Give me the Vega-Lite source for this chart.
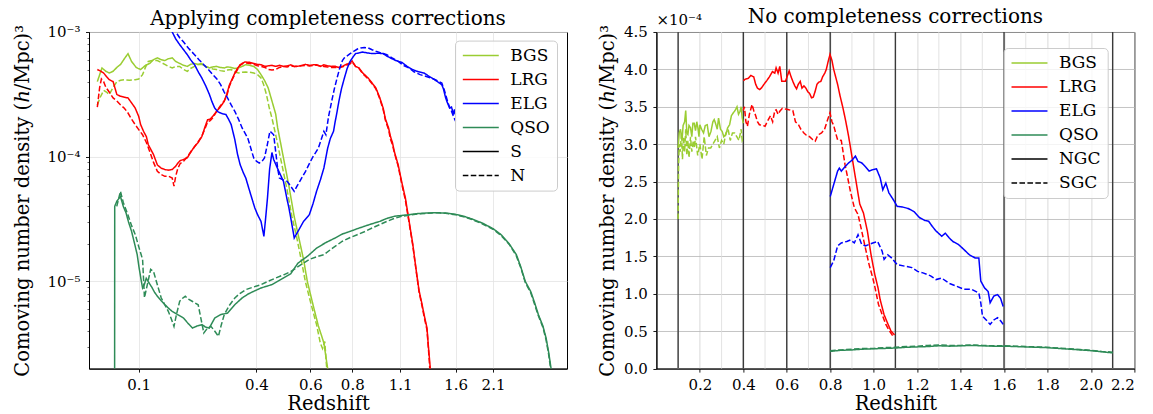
{
"$schema": "https://vega.github.io/schema/vega-lite/v6.json",
"background": "white",
"padding": {"left": 12, "top": 6, "right": 5, "bottom": 3},
"spacing": 89.4,
"bounds": "flush",
"resolve": {"scale": {"color": "independent", "strokeDash": "independent"}, "legend": {"color": "independent", "strokeDash": "independent"}},
"config": {
  "font": "DejaVu Serif",
  "view": {"stroke": "black", "strokeWidth": 1},
  "axis": {"domainColor": "black", "domainWidth": 1, "tickColor": "black", "tickWidth": 0.9, "tickSize": 3.5, "labelFont": "DejaVu Serif", "labelFontSize": 15, "labelColor": "black", "labelPadding": 5, "labelOverlap": false, "titleFont": "DejaVu Serif", "titleFontSize": 19.5, "titleFontWeight": "normal", "titleColor": "black", "gridColor": "#e3e3e3", "gridWidth": 0.8},
  "title": {"font": "DejaVu Serif", "fontSize": 20, "fontWeight": "normal", "color": "black", "frame": "group", "baseline": "alphabetic"},
  "legend": {"labelFont": "DejaVu Serif", "labelFontSize": 17, "labelColor": "black"}
},
"datasets": {
"left": [
{"tracer":"BGS","cap":"S","z":0.023,"n":4.0e-4},{"tracer":"BGS","cap":"S","z":0.031,"n":5.15e-4},{"tracer":"BGS","cap":"S","z":0.038,"n":4.84e-4},{"tracer":"BGS","cap":"S","z":0.044,"n":4.69e-4},{"tracer":"BGS","cap":"S","z":0.051,"n":4.84e-4},{"tracer":"BGS","cap":"S","z":0.058,"n":5.2e-4},{"tracer":"BGS","cap":"S","z":0.065,"n":5.5e-4},{"tracer":"BGS","cap":"S","z":0.072,"n":6.1e-4},{"tracer":"BGS","cap":"S","z":0.079,"n":6.7e-4},{"tracer":"BGS","cap":"S","z":0.086,"n":5.8e-4},{"tracer":"BGS","cap":"S","z":0.095,"n":5.2e-4},{"tracer":"BGS","cap":"S","z":0.104,"n":5.0e-4},{"tracer":"BGS","cap":"S","z":0.114,"n":5.4e-4},{"tracer":"BGS","cap":"S","z":0.123,"n":5.6e-4},{"tracer":"BGS","cap":"S","z":0.131,"n":6.0e-4},{"tracer":"BGS","cap":"S","z":0.139,"n":6.2e-4},{"tracer":"BGS","cap":"S","z":0.147,"n":6.0e-4},{"tracer":"BGS","cap":"S","z":0.155,"n":5.9e-4},{"tracer":"BGS","cap":"S","z":0.163,"n":6.1e-4},{"tracer":"BGS","cap":"S","z":0.172,"n":6.2e-4},{"tracer":"BGS","cap":"S","z":0.18,"n":5.8e-4},{"tracer":"BGS","cap":"S","z":0.189,"n":5.6e-4},{"tracer":"BGS","cap":"S","z":0.198,"n":5.4e-4},{"tracer":"BGS","cap":"S","z":0.207,"n":5.3e-4},{"tracer":"BGS","cap":"S","z":0.215,"n":5.5e-4},{"tracer":"BGS","cap":"S","z":0.225,"n":5.6e-4},{"tracer":"BGS","cap":"S","z":0.234,"n":5.5e-4},{"tracer":"BGS","cap":"S","z":0.243,"n":5.5e-4},{"tracer":"BGS","cap":"S","z":0.253,"n":5.3e-4},{"tracer":"BGS","cap":"S","z":0.263,"n":5.15e-4},{"tracer":"BGS","cap":"S","z":0.272,"n":5.25e-4},{"tracer":"BGS","cap":"S","z":0.282,"n":5.3e-4},{"tracer":"BGS","cap":"S","z":0.292,"n":5.2e-4},{"tracer":"BGS","cap":"S","z":0.303,"n":5.15e-4},{"tracer":"BGS","cap":"S","z":0.313,"n":5.25e-4},{"tracer":"BGS","cap":"S","z":0.324,"n":5.2e-4},{"tracer":"BGS","cap":"S","z":0.335,"n":5.1e-4},{"tracer":"BGS","cap":"S","z":0.346,"n":5.15e-4},{"tracer":"BGS","cap":"S","z":0.357,"n":5.3e-4},{"tracer":"BGS","cap":"S","z":0.368,"n":5.47e-4},{"tracer":"BGS","cap":"S","z":0.38,"n":5.4e-4},{"tracer":"BGS","cap":"S","z":0.392,"n":5.3e-4},{"tracer":"BGS","cap":"S","z":0.404,"n":5.0e-4},{"tracer":"BGS","cap":"S","z":0.416,"n":4.55e-4},{"tracer":"BGS","cap":"S","z":0.428,"n":4.1e-4},{"tracer":"BGS","cap":"S","z":0.441,"n":3.56e-4},{"tracer":"BGS","cap":"S","z":0.454,"n":2.8e-4},{"tracer":"BGS","cap":"S","z":0.467,"n":2.2e-4},{"tracer":"BGS","cap":"S","z":0.474,"n":1.7e-4},{"tracer":"BGS","cap":"S","z":0.494,"n":9.8e-5},{"tracer":"BGS","cap":"S","z":0.515,"n":5.8e-5},{"tracer":"BGS","cap":"S","z":0.536,"n":3.3e-5},{"tracer":"BGS","cap":"S","z":0.551,"n":2.4e-5},{"tracer":"BGS","cap":"S","z":0.573,"n":1.5e-5},{"tracer":"BGS","cap":"S","z":0.588,"n":1.0e-5},{"tracer":"BGS","cap":"S","z":0.612,"n":6.5e-6},{"tracer":"BGS","cap":"S","z":0.636,"n":4.4e-6},{"tracer":"BGS","cap":"S","z":0.652,"n":3.6e-6},{"tracer":"BGS","cap":"S","z":0.661,"n":3.2e-6},{"tracer":"BGS","cap":"S","z":0.67,"n":2.5e-6},{"tracer":"BGS","cap":"S","z":0.678,"n":2.0e-6},{"tracer":"BGS","cap":"S","z":0.685,"n":1.5e-6},
{"tracer":"BGS","cap":"N","z":0.023,"n":2.6e-4},{"tracer":"BGS","cap":"N","z":0.028,"n":3.0e-4},{"tracer":"BGS","cap":"N","z":0.034,"n":3.4e-4},{"tracer":"BGS","cap":"N","z":0.039,"n":3.3e-4},{"tracer":"BGS","cap":"N","z":0.044,"n":3.15e-4},{"tracer":"BGS","cap":"N","z":0.051,"n":3.6e-4},{"tracer":"BGS","cap":"N","z":0.058,"n":4.0e-4},{"tracer":"BGS","cap":"N","z":0.065,"n":4.1e-4},{"tracer":"BGS","cap":"N","z":0.072,"n":4.15e-4},{"tracer":"BGS","cap":"N","z":0.082,"n":4.1e-4},{"tracer":"BGS","cap":"N","z":0.093,"n":4.15e-4},{"tracer":"BGS","cap":"N","z":0.1,"n":4.2e-4},{"tracer":"BGS","cap":"N","z":0.108,"n":4.55e-4},{"tracer":"BGS","cap":"N","z":0.114,"n":5.2e-4},{"tracer":"BGS","cap":"N","z":0.12,"n":5.8e-4},{"tracer":"BGS","cap":"N","z":0.128,"n":5.9e-4},{"tracer":"BGS","cap":"N","z":0.139,"n":5.9e-4},{"tracer":"BGS","cap":"N","z":0.147,"n":5.7e-4},{"tracer":"BGS","cap":"N","z":0.155,"n":5.5e-4},{"tracer":"BGS","cap":"N","z":0.163,"n":5.3e-4},{"tracer":"BGS","cap":"N","z":0.172,"n":5.15e-4},{"tracer":"BGS","cap":"N","z":0.18,"n":5.3e-4},{"tracer":"BGS","cap":"N","z":0.189,"n":5.3e-4},{"tracer":"BGS","cap":"N","z":0.198,"n":5.0e-4},{"tracer":"BGS","cap":"N","z":0.207,"n":4.84e-4},{"tracer":"BGS","cap":"N","z":0.215,"n":5.1e-4},{"tracer":"BGS","cap":"N","z":0.225,"n":5.3e-4},{"tracer":"BGS","cap":"N","z":0.234,"n":5.5e-4},{"tracer":"BGS","cap":"N","z":0.243,"n":5.6e-4},{"tracer":"BGS","cap":"N","z":0.253,"n":5.3e-4},{"tracer":"BGS","cap":"N","z":0.263,"n":5.15e-4},{"tracer":"BGS","cap":"N","z":0.272,"n":5.05e-4},{"tracer":"BGS","cap":"N","z":0.282,"n":5.0e-4},{"tracer":"BGS","cap":"N","z":0.292,"n":4.9e-4},{"tracer":"BGS","cap":"N","z":0.303,"n":4.84e-4},{"tracer":"BGS","cap":"N","z":0.313,"n":4.95e-4},{"tracer":"BGS","cap":"N","z":0.324,"n":5.0e-4},{"tracer":"BGS","cap":"N","z":0.335,"n":4.8e-4},{"tracer":"BGS","cap":"N","z":0.346,"n":4.69e-4},{"tracer":"BGS","cap":"N","z":0.357,"n":4.75e-4},{"tracer":"BGS","cap":"N","z":0.368,"n":4.78e-4},{"tracer":"BGS","cap":"N","z":0.38,"n":4.75e-4},{"tracer":"BGS","cap":"N","z":0.392,"n":4.69e-4},{"tracer":"BGS","cap":"N","z":0.404,"n":4.55e-4},{"tracer":"BGS","cap":"N","z":0.416,"n":4.28e-4},{"tracer":"BGS","cap":"N","z":0.425,"n":3.8e-4},{"tracer":"BGS","cap":"N","z":0.435,"n":3.15e-4},{"tracer":"BGS","cap":"N","z":0.444,"n":2.5e-4},{"tracer":"BGS","cap":"N","z":0.454,"n":2.04e-4},{"tracer":"BGS","cap":"N","z":0.467,"n":1.5e-4},{"tracer":"BGS","cap":"N","z":0.487,"n":9.0e-5},{"tracer":"BGS","cap":"N","z":0.507,"n":5.5e-5},{"tracer":"BGS","cap":"N","z":0.527,"n":3.3e-5},{"tracer":"BGS","cap":"N","z":0.545,"n":2.3e-5},{"tracer":"BGS","cap":"N","z":0.565,"n":1.45e-5},{"tracer":"BGS","cap":"N","z":0.58,"n":1.0e-5},{"tracer":"BGS","cap":"N","z":0.604,"n":6.5e-6},{"tracer":"BGS","cap":"N","z":0.628,"n":4.5e-6},{"tracer":"BGS","cap":"N","z":0.645,"n":3.2e-6},{"tracer":"BGS","cap":"N","z":0.655,"n":2.9e-6},{"tracer":"BGS","cap":"N","z":0.665,"n":3.3e-6},{"tracer":"BGS","cap":"N","z":0.672,"n":2.2e-6},{"tracer":"BGS","cap":"N","z":0.68,"n":1.5e-6},
{"tracer":"LRG","cap":"S","z":0.023,"n":5.0e-4},{"tracer":"LRG","cap":"S","z":0.029,"n":4.85e-4},{"tracer":"LRG","cap":"S","z":0.034,"n":4.69e-4},{"tracer":"LRG","cap":"S","z":0.039,"n":4.4e-4},{"tracer":"LRG","cap":"S","z":0.044,"n":4.15e-4},{"tracer":"LRG","cap":"S","z":0.051,"n":4.0e-4},{"tracer":"LRG","cap":"S","z":0.058,"n":3.15e-4},{"tracer":"LRG","cap":"S","z":0.065,"n":3.05e-4},{"tracer":"LRG","cap":"S","z":0.072,"n":3.0e-4},{"tracer":"LRG","cap":"S","z":0.079,"n":2.96e-4},{"tracer":"LRG","cap":"S","z":0.086,"n":2.7e-4},{"tracer":"LRG","cap":"S","z":0.093,"n":2.46e-4},{"tracer":"LRG","cap":"S","z":0.1,"n":2.1e-4},{"tracer":"LRG","cap":"S","z":0.104,"n":1.81e-4},{"tracer":"LRG","cap":"S","z":0.11,"n":1.6e-4},{"tracer":"LRG","cap":"S","z":0.116,"n":1.45e-4},{"tracer":"LRG","cap":"S","z":0.12,"n":1.25e-4},{"tracer":"LRG","cap":"S","z":0.125,"n":1.15e-4},{"tracer":"LRG","cap":"S","z":0.131,"n":1.04e-4},{"tracer":"LRG","cap":"S","z":0.139,"n":8.6e-5},{"tracer":"LRG","cap":"S","z":0.147,"n":8.1e-5},{"tracer":"LRG","cap":"S","z":0.155,"n":7.9e-5},{"tracer":"LRG","cap":"S","z":0.163,"n":7.8e-5},{"tracer":"LRG","cap":"S","z":0.172,"n":7.9e-5},{"tracer":"LRG","cap":"S","z":0.18,"n":8.4e-5},{"tracer":"LRG","cap":"S","z":0.185,"n":8.9e-5},{"tracer":"LRG","cap":"S","z":0.19,"n":9.3e-5},{"tracer":"LRG","cap":"S","z":0.198,"n":9.5e-5},{"tracer":"LRG","cap":"S","z":0.207,"n":9.8e-5},{"tracer":"LRG","cap":"S","z":0.215,"n":1.08e-4},{"tracer":"LRG","cap":"S","z":0.225,"n":1.21e-4},{"tracer":"LRG","cap":"S","z":0.234,"n":1.3e-4},{"tracer":"LRG","cap":"S","z":0.243,"n":1.45e-4},{"tracer":"LRG","cap":"S","z":0.25,"n":1.7e-4},{"tracer":"LRG","cap":"S","z":0.258,"n":1.98e-4},{"tracer":"LRG","cap":"S","z":0.265,"n":2.0e-4},{"tracer":"LRG","cap":"S","z":0.272,"n":2.11e-4},{"tracer":"LRG","cap":"S","z":0.282,"n":2.31e-4},{"tracer":"LRG","cap":"S","z":0.292,"n":2.5e-4},{"tracer":"LRG","cap":"S","z":0.303,"n":2.78e-4},{"tracer":"LRG","cap":"S","z":0.311,"n":3.2e-4},{"tracer":"LRG","cap":"S","z":0.319,"n":3.78e-4},{"tracer":"LRG","cap":"S","z":0.327,"n":4.2e-4},{"tracer":"LRG","cap":"S","z":0.335,"n":4.69e-4},{"tracer":"LRG","cap":"S","z":0.343,"n":5.1e-4},{"tracer":"LRG","cap":"S","z":0.351,"n":5.47e-4},{"tracer":"LRG","cap":"S","z":0.357,"n":5.6e-4},{"tracer":"LRG","cap":"S","z":0.365,"n":5.75e-4},{"tracer":"LRG","cap":"S","z":0.38,"n":5.71e-4},{"tracer":"LRG","cap":"S","z":0.392,"n":5.6e-4},{"tracer":"LRG","cap":"S","z":0.404,"n":5.5e-4},{"tracer":"LRG","cap":"S","z":0.416,"n":5.47e-4},{"tracer":"LRG","cap":"S","z":0.43,"n":5.3e-4},{"tracer":"LRG","cap":"S","z":0.441,"n":5.35e-4},{"tracer":"LRG","cap":"S","z":0.454,"n":5.4e-4},{"tracer":"LRG","cap":"S","z":0.467,"n":5.31e-4},{"tracer":"LRG","cap":"S","z":0.48,"n":5.4e-4},{"tracer":"LRG","cap":"S","z":0.494,"n":5.3e-4},{"tracer":"LRG","cap":"S","z":0.508,"n":5.35e-4},{"tracer":"LRG","cap":"S","z":0.522,"n":5.45e-4},{"tracer":"LRG","cap":"S","z":0.536,"n":5.3e-4},{"tracer":"LRG","cap":"S","z":0.55,"n":5.31e-4},{"tracer":"LRG","cap":"S","z":0.565,"n":5.4e-4},{"tracer":"LRG","cap":"S","z":0.58,"n":5.5e-4},{"tracer":"LRG","cap":"S","z":0.596,"n":5.4e-4},{"tracer":"LRG","cap":"S","z":0.612,"n":5.45e-4},{"tracer":"LRG","cap":"S","z":0.628,"n":5.47e-4},{"tracer":"LRG","cap":"S","z":0.645,"n":5.3e-4},{"tracer":"LRG","cap":"S","z":0.661,"n":5.45e-4},{"tracer":"LRG","cap":"S","z":0.678,"n":5.35e-4},{"tracer":"LRG","cap":"S","z":0.695,"n":5.3e-4},{"tracer":"LRG","cap":"S","z":0.713,"n":5.31e-4},{"tracer":"LRG","cap":"S","z":0.731,"n":5.2e-4},{"tracer":"LRG","cap":"S","z":0.75,"n":5.3e-4},{"tracer":"LRG","cap":"S","z":0.769,"n":5.5e-4},{"tracer":"LRG","cap":"S","z":0.789,"n":5.64e-4},{"tracer":"LRG","cap":"S","z":0.799,"n":5.85e-4},{"tracer":"LRG","cap":"S","z":0.808,"n":5.6e-4},{"tracer":"LRG","cap":"S","z":0.819,"n":5.3e-4},{"tracer":"LRG","cap":"S","z":0.839,"n":5.15e-4},{"tracer":"LRG","cap":"S","z":0.86,"n":4.7e-4},{"tracer":"LRG","cap":"S","z":0.892,"n":4.28e-4},{"tracer":"LRG","cap":"S","z":0.915,"n":3.9e-4},{"tracer":"LRG","cap":"S","z":0.937,"n":3.56e-4},{"tracer":"LRG","cap":"S","z":0.96,"n":3.0e-4},{"tracer":"LRG","cap":"S","z":0.984,"n":2.46e-4},{"tracer":"LRG","cap":"S","z":1.0,"n":2.0e-4},{"tracer":"LRG","cap":"S","z":1.021,"n":1.7e-4},{"tracer":"LRG","cap":"S","z":1.034,"n":1.45e-4},{"tracer":"LRG","cap":"S","z":1.047,"n":1.3e-4},{"tracer":"LRG","cap":"S","z":1.06,"n":1.1e-4},{"tracer":"LRG","cap":"S","z":1.086,"n":8.6e-5},{"tracer":"LRG","cap":"S","z":1.113,"n":6.2e-5},{"tracer":"LRG","cap":"S","z":1.141,"n":4.67e-5},{"tracer":"LRG","cap":"S","z":1.184,"n":2.52e-5},{"tracer":"LRG","cap":"S","z":1.2,"n":2.0e-5},{"tracer":"LRG","cap":"S","z":1.229,"n":1.2e-5},{"tracer":"LRG","cap":"S","z":1.25,"n":8.5e-6},{"tracer":"LRG","cap":"S","z":1.275,"n":6.5e-6},{"tracer":"LRG","cap":"S","z":1.291,"n":5.4e-6},{"tracer":"LRG","cap":"S","z":1.317,"n":4.23e-6},{"tracer":"LRG","cap":"S","z":1.33,"n":3.1e-6},{"tracer":"LRG","cap":"S","z":1.35,"n":2.0e-6},{"tracer":"LRG","cap":"S","z":1.36,"n":1.5e-6},
{"tracer":"LRG","cap":"N","z":0.023,"n":2.5e-4},{"tracer":"LRG","cap":"N","z":0.027,"n":3.6e-4},{"tracer":"LRG","cap":"N","z":0.03,"n":4.2e-4},{"tracer":"LRG","cap":"N","z":0.034,"n":4.0e-4},{"tracer":"LRG","cap":"N","z":0.038,"n":3.6e-4},{"tracer":"LRG","cap":"N","z":0.044,"n":3.3e-4},{"tracer":"LRG","cap":"N","z":0.051,"n":2.96e-4},{"tracer":"LRG","cap":"N","z":0.058,"n":2.8e-4},{"tracer":"LRG","cap":"N","z":0.065,"n":2.6e-4},{"tracer":"LRG","cap":"N","z":0.072,"n":2.45e-4},{"tracer":"LRG","cap":"N","z":0.079,"n":2.24e-4},{"tracer":"LRG","cap":"N","z":0.086,"n":2.0e-4},{"tracer":"LRG","cap":"N","z":0.093,"n":1.81e-4},{"tracer":"LRG","cap":"N","z":0.1,"n":1.65e-4},{"tracer":"LRG","cap":"N","z":0.108,"n":1.5e-4},{"tracer":"LRG","cap":"N","z":0.116,"n":1.3e-4},{"tracer":"LRG","cap":"N","z":0.123,"n":1.1e-4},{"tracer":"LRG","cap":"N","z":0.131,"n":9.0e-5},{"tracer":"LRG","cap":"N","z":0.139,"n":7.64e-5},{"tracer":"LRG","cap":"N","z":0.147,"n":7.2e-5},{"tracer":"LRG","cap":"N","z":0.155,"n":6.96e-5},{"tracer":"LRG","cap":"N","z":0.163,"n":7.0e-5},{"tracer":"LRG","cap":"N","z":0.172,"n":6.75e-5},{"tracer":"LRG","cap":"N","z":0.176,"n":5.8e-5},{"tracer":"LRG","cap":"N","z":0.18,"n":7.0e-5},{"tracer":"LRG","cap":"N","z":0.185,"n":8.1e-5},{"tracer":"LRG","cap":"N","z":0.19,"n":8.8e-5},{"tracer":"LRG","cap":"N","z":0.198,"n":9.2e-5},{"tracer":"LRG","cap":"N","z":0.207,"n":1.0e-4},{"tracer":"LRG","cap":"N","z":0.216,"n":1.1e-4},{"tracer":"LRG","cap":"N","z":0.225,"n":1.2e-4},{"tracer":"LRG","cap":"N","z":0.234,"n":1.32e-4},{"tracer":"LRG","cap":"N","z":0.243,"n":1.46e-4},{"tracer":"LRG","cap":"N","z":0.25,"n":1.65e-4},{"tracer":"LRG","cap":"N","z":0.258,"n":1.9e-4},{"tracer":"LRG","cap":"N","z":0.265,"n":1.95e-4},{"tracer":"LRG","cap":"N","z":0.272,"n":2.05e-4},{"tracer":"LRG","cap":"N","z":0.282,"n":2.3e-4},{"tracer":"LRG","cap":"N","z":0.292,"n":2.55e-4},{"tracer":"LRG","cap":"N","z":0.303,"n":2.8e-4},{"tracer":"LRG","cap":"N","z":0.311,"n":3.1e-4},{"tracer":"LRG","cap":"N","z":0.319,"n":3.7e-4},{"tracer":"LRG","cap":"N","z":0.327,"n":4.15e-4},{"tracer":"LRG","cap":"N","z":0.335,"n":4.6e-4},{"tracer":"LRG","cap":"N","z":0.343,"n":5.0e-4},{"tracer":"LRG","cap":"N","z":0.351,"n":5.4e-4},{"tracer":"LRG","cap":"N","z":0.36,"n":5.6e-4},{"tracer":"LRG","cap":"N","z":0.37,"n":5.65e-4},{"tracer":"LRG","cap":"N","z":0.38,"n":5.6e-4},{"tracer":"LRG","cap":"N","z":0.392,"n":5.5e-4},{"tracer":"LRG","cap":"N","z":0.404,"n":5.35e-4},{"tracer":"LRG","cap":"N","z":0.416,"n":5.3e-4},{"tracer":"LRG","cap":"N","z":0.43,"n":5.2e-4},{"tracer":"LRG","cap":"N","z":0.441,"n":5.0e-4},{"tracer":"LRG","cap":"N","z":0.454,"n":4.95e-4},{"tracer":"LRG","cap":"N","z":0.467,"n":5.0e-4},{"tracer":"LRG","cap":"N","z":0.48,"n":5.2e-4},{"tracer":"LRG","cap":"N","z":0.494,"n":5.3e-4},{"tracer":"LRG","cap":"N","z":0.508,"n":5.25e-4},{"tracer":"LRG","cap":"N","z":0.522,"n":5.35e-4},{"tracer":"LRG","cap":"N","z":0.536,"n":5.3e-4},{"tracer":"LRG","cap":"N","z":0.55,"n":5.3e-4},{"tracer":"LRG","cap":"N","z":0.565,"n":5.35e-4},{"tracer":"LRG","cap":"N","z":0.58,"n":5.4e-4},{"tracer":"LRG","cap":"N","z":0.596,"n":5.35e-4},{"tracer":"LRG","cap":"N","z":0.612,"n":5.4e-4},{"tracer":"LRG","cap":"N","z":0.628,"n":5.4e-4},{"tracer":"LRG","cap":"N","z":0.645,"n":5.35e-4},{"tracer":"LRG","cap":"N","z":0.661,"n":5.3e-4},{"tracer":"LRG","cap":"N","z":0.678,"n":5.25e-4},{"tracer":"LRG","cap":"N","z":0.695,"n":5.2e-4},{"tracer":"LRG","cap":"N","z":0.713,"n":5.2e-4},{"tracer":"LRG","cap":"N","z":0.731,"n":5.15e-4},{"tracer":"LRG","cap":"N","z":0.75,"n":5.25e-4},{"tracer":"LRG","cap":"N","z":0.769,"n":5.4e-4},{"tracer":"LRG","cap":"N","z":0.789,"n":5.55e-4},{"tracer":"LRG","cap":"N","z":0.799,"n":5.75e-4},{"tracer":"LRG","cap":"N","z":0.808,"n":5.55e-4},{"tracer":"LRG","cap":"N","z":0.819,"n":5.3e-4},{"tracer":"LRG","cap":"N","z":0.839,"n":5.1e-4},{"tracer":"LRG","cap":"N","z":0.86,"n":4.65e-4},{"tracer":"LRG","cap":"N","z":0.892,"n":4.2e-4},{"tracer":"LRG","cap":"N","z":0.915,"n":3.85e-4},{"tracer":"LRG","cap":"N","z":0.937,"n":3.5e-4},{"tracer":"LRG","cap":"N","z":0.96,"n":2.95e-4},{"tracer":"LRG","cap":"N","z":0.984,"n":2.4e-4},{"tracer":"LRG","cap":"N","z":1.0,"n":1.95e-4},{"tracer":"LRG","cap":"N","z":1.021,"n":1.65e-4},{"tracer":"LRG","cap":"N","z":1.034,"n":1.38e-4},{"tracer":"LRG","cap":"N","z":1.047,"n":1.25e-4},{"tracer":"LRG","cap":"N","z":1.06,"n":1.08e-4},{"tracer":"LRG","cap":"N","z":1.086,"n":8.4e-5},{"tracer":"LRG","cap":"N","z":1.113,"n":6.0e-5},{"tracer":"LRG","cap":"N","z":1.141,"n":4.5e-5},{"tracer":"LRG","cap":"N","z":1.184,"n":2.45e-5},{"tracer":"LRG","cap":"N","z":1.2,"n":1.95e-5},{"tracer":"LRG","cap":"N","z":1.229,"n":1.18e-5},{"tracer":"LRG","cap":"N","z":1.25,"n":8.3e-6},{"tracer":"LRG","cap":"N","z":1.275,"n":6.3e-6},{"tracer":"LRG","cap":"N","z":1.291,"n":5.2e-6},{"tracer":"LRG","cap":"N","z":1.317,"n":4.1e-6},{"tracer":"LRG","cap":"N","z":1.33,"n":3.0e-6},{"tracer":"LRG","cap":"N","z":1.345,"n":2.0e-6},{"tracer":"LRG","cap":"N","z":1.355,"n":1.5e-6},
{"tracer":"ELG","cap":"S","z":0.155,"n":1.25e-3},{"tracer":"ELG","cap":"S","z":0.172,"n":1.0e-3},{"tracer":"ELG","cap":"S","z":0.18,"n":8.8e-4},{"tracer":"ELG","cap":"S","z":0.189,"n":7.92e-4},{"tracer":"ELG","cap":"S","z":0.198,"n":7.2e-4},{"tracer":"ELG","cap":"S","z":0.207,"n":6.58e-4},{"tracer":"ELG","cap":"S","z":0.215,"n":6.0e-4},{"tracer":"ELG","cap":"S","z":0.225,"n":5.47e-4},{"tracer":"ELG","cap":"S","z":0.234,"n":4.8e-4},{"tracer":"ELG","cap":"S","z":0.243,"n":4.28e-4},{"tracer":"ELG","cap":"S","z":0.253,"n":3.7e-4},{"tracer":"ELG","cap":"S","z":0.263,"n":3.15e-4},{"tracer":"ELG","cap":"S","z":0.27,"n":2.75e-4},{"tracer":"ELG","cap":"S","z":0.277,"n":2.46e-4},{"tracer":"ELG","cap":"S","z":0.285,"n":2.3e-4},{"tracer":"ELG","cap":"S","z":0.293,"n":2.24e-4},{"tracer":"ELG","cap":"S","z":0.3,"n":2.2e-4},{"tracer":"ELG","cap":"S","z":0.308,"n":2.18e-4},{"tracer":"ELG","cap":"S","z":0.316,"n":2.0e-4},{"tracer":"ELG","cap":"S","z":0.324,"n":1.81e-4},{"tracer":"ELG","cap":"S","z":0.335,"n":1.37e-4},{"tracer":"ELG","cap":"S","z":0.343,"n":1.05e-4},{"tracer":"ELG","cap":"S","z":0.351,"n":8.64e-5},{"tracer":"ELG","cap":"S","z":0.36,"n":7.5e-5},{"tracer":"ELG","cap":"S","z":0.368,"n":6.75e-5},{"tracer":"ELG","cap":"S","z":0.377,"n":5.6e-5},{"tracer":"ELG","cap":"S","z":0.386,"n":4.67e-5},{"tracer":"ELG","cap":"S","z":0.395,"n":3.9e-5},{"tracer":"ELG","cap":"S","z":0.404,"n":3.43e-5},{"tracer":"ELG","cap":"S","z":0.416,"n":3.03e-5},{"tracer":"ELG","cap":"S","z":0.426,"n":2.3e-5},{"tracer":"ELG","cap":"S","z":0.432,"n":3.2e-5},{"tracer":"ELG","cap":"S","z":0.4385,"n":4.67e-5},{"tracer":"ELG","cap":"S","z":0.446,"n":8.0e-5},{"tracer":"ELG","cap":"S","z":0.454,"n":1.08e-4},{"tracer":"ELG","cap":"S","z":0.46,"n":9.5e-5},{"tracer":"ELG","cap":"S","z":0.474,"n":8.0e-5},{"tracer":"ELG","cap":"S","z":0.494,"n":6.35e-5},{"tracer":"ELG","cap":"S","z":0.508,"n":4.5e-5},{"tracer":"ELG","cap":"S","z":0.515,"n":3.88e-5},{"tracer":"ELG","cap":"S","z":0.525,"n":3.0e-5},{"tracer":"ELG","cap":"S","z":0.536,"n":2.23e-5},{"tracer":"ELG","cap":"S","z":0.551,"n":2.52e-5},{"tracer":"ELG","cap":"S","z":0.573,"n":3.03e-5},{"tracer":"ELG","cap":"S","z":0.596,"n":3.43e-5},{"tracer":"ELG","cap":"S","z":0.612,"n":4.2e-5},{"tracer":"ELG","cap":"S","z":0.628,"n":5.28e-5},{"tracer":"ELG","cap":"S","z":0.645,"n":6.5e-5},{"tracer":"ELG","cap":"S","z":0.661,"n":8.12e-5},{"tracer":"ELG","cap":"S","z":0.678,"n":1.17e-4},{"tracer":"ELG","cap":"S","z":0.69,"n":1.4e-4},{"tracer":"ELG","cap":"S","z":0.705,"n":1.6e-4},{"tracer":"ELG","cap":"S","z":0.713,"n":1.9e-4},{"tracer":"ELG","cap":"S","z":0.723,"n":2.3e-4},{"tracer":"ELG","cap":"S","z":0.732,"n":2.78e-4},{"tracer":"ELG","cap":"S","z":0.745,"n":3.5e-4},{"tracer":"ELG","cap":"S","z":0.76,"n":4.28e-4},{"tracer":"ELG","cap":"S","z":0.774,"n":5.1e-4},{"tracer":"ELG","cap":"S","z":0.789,"n":5.82e-4},{"tracer":"ELG","cap":"S","z":0.804,"n":6.3e-4},{"tracer":"ELG","cap":"S","z":0.819,"n":6.71e-4},{"tracer":"ELG","cap":"S","z":0.84,"n":6.8e-4},{"tracer":"ELG","cap":"S","z":0.86,"n":6.9e-4},{"tracer":"ELG","cap":"S","z":0.887,"n":6.8e-4},{"tracer":"ELG","cap":"S","z":0.915,"n":6.71e-4},{"tracer":"ELG","cap":"S","z":0.95,"n":6.75e-4},{"tracer":"ELG","cap":"S","z":0.984,"n":6.71e-4},{"tracer":"ELG","cap":"S","z":1.01,"n":6.4e-4},{"tracer":"ELG","cap":"S","z":1.034,"n":6.19e-4},{"tracer":"ELG","cap":"S","z":1.07,"n":5.9e-4},{"tracer":"ELG","cap":"S","z":1.113,"n":5.71e-4},{"tracer":"ELG","cap":"S","z":1.155,"n":5.3e-4},{"tracer":"ELG","cap":"S","z":1.199,"n":4.99e-4},{"tracer":"ELG","cap":"S","z":1.245,"n":4.8e-4},{"tracer":"ELG","cap":"S","z":1.291,"n":4.69e-4},{"tracer":"ELG","cap":"S","z":1.34,"n":4.4e-4},{"tracer":"ELG","cap":"S","z":1.392,"n":4.15e-4},{"tracer":"ELG","cap":"S","z":1.43,"n":3.95e-4},{"tracer":"ELG","cap":"S","z":1.464,"n":3.78e-4},{"tracer":"ELG","cap":"S","z":1.48,"n":3.5e-4},{"tracer":"ELG","cap":"S","z":1.502,"n":2.96e-4},{"tracer":"ELG","cap":"S","z":1.52,"n":2.7e-4},{"tracer":"ELG","cap":"S","z":1.541,"n":2.46e-4},{"tracer":"ELG","cap":"S","z":1.56,"n":2.5e-4},{"tracer":"ELG","cap":"S","z":1.581,"n":2.18e-4},{"tracer":"ELG","cap":"S","z":1.59,"n":2.4e-4},{"tracer":"ELG","cap":"S","z":1.6,"n":2.2e-4},
{"tracer":"ELG","cap":"N","z":0.165,"n":1.25e-3},{"tracer":"ELG","cap":"N","z":0.18,"n":1.0e-3},{"tracer":"ELG","cap":"N","z":0.189,"n":9.0e-4},{"tracer":"ELG","cap":"N","z":0.198,"n":8.3e-4},{"tracer":"ELG","cap":"N","z":0.21,"n":7.4e-4},{"tracer":"ELG","cap":"N","z":0.225,"n":6.58e-4},{"tracer":"ELG","cap":"N","z":0.236,"n":6.0e-4},{"tracer":"ELG","cap":"N","z":0.248,"n":5.47e-4},{"tracer":"ELG","cap":"N","z":0.26,"n":5.0e-4},{"tracer":"ELG","cap":"N","z":0.272,"n":4.55e-4},{"tracer":"ELG","cap":"N","z":0.283,"n":4.2e-4},{"tracer":"ELG","cap":"N","z":0.293,"n":3.78e-4},{"tracer":"ELG","cap":"N","z":0.303,"n":3.3e-4},{"tracer":"ELG","cap":"N","z":0.313,"n":2.96e-4},{"tracer":"ELG","cap":"N","z":0.324,"n":2.6e-4},{"tracer":"ELG","cap":"N","z":0.335,"n":2.31e-4},{"tracer":"ELG","cap":"N","z":0.346,"n":2.0e-4},{"tracer":"ELG","cap":"N","z":0.357,"n":1.7e-4},{"tracer":"ELG","cap":"N","z":0.374,"n":1.41e-4},{"tracer":"ELG","cap":"N","z":0.38,"n":1.25e-4},{"tracer":"ELG","cap":"N","z":0.386,"n":1.1e-4},{"tracer":"ELG","cap":"N","z":0.392,"n":9.77e-5},{"tracer":"ELG","cap":"N","z":0.4,"n":9.2e-5},{"tracer":"ELG","cap":"N","z":0.41,"n":8.9e-5},{"tracer":"ELG","cap":"N","z":0.42,"n":9.2e-5},{"tracer":"ELG","cap":"N","z":0.428,"n":9.77e-5},{"tracer":"ELG","cap":"N","z":0.438,"n":1.25e-4},{"tracer":"ELG","cap":"N","z":0.447,"n":1.6e-4},{"tracer":"ELG","cap":"N","z":0.454,"n":1.55e-4},{"tracer":"ELG","cap":"N","z":0.46,"n":1.5e-4},{"tracer":"ELG","cap":"N","z":0.467,"n":1.1e-4},{"tracer":"ELG","cap":"N","z":0.474,"n":8.0e-5},{"tracer":"ELG","cap":"N","z":0.48,"n":6.75e-5},{"tracer":"ELG","cap":"N","z":0.494,"n":6.5e-5},{"tracer":"ELG","cap":"N","z":0.508,"n":6.35e-5},{"tracer":"ELG","cap":"N","z":0.522,"n":5.8e-5},{"tracer":"ELG","cap":"N","z":0.536,"n":5.28e-5},{"tracer":"ELG","cap":"N","z":0.547,"n":5.8e-5},{"tracer":"ELG","cap":"N","z":0.558,"n":6.35e-5},{"tracer":"ELG","cap":"N","z":0.581,"n":7.64e-5},{"tracer":"ELG","cap":"N","z":0.596,"n":8.8e-5},{"tracer":"ELG","cap":"N","z":0.612,"n":1.0e-4},{"tracer":"ELG","cap":"N","z":0.636,"n":1.17e-4},{"tracer":"ELG","cap":"N","z":0.661,"n":1.6e-4},{"tracer":"ELG","cap":"N","z":0.67,"n":1.5e-4},{"tracer":"ELG","cap":"N","z":0.682,"n":2.1e-4},{"tracer":"ELG","cap":"N","z":0.696,"n":2.78e-4},{"tracer":"ELG","cap":"N","z":0.709,"n":3.5e-4},{"tracer":"ELG","cap":"N","z":0.723,"n":4.28e-4},{"tracer":"ELG","cap":"N","z":0.736,"n":5.1e-4},{"tracer":"ELG","cap":"N","z":0.75,"n":5.89e-4},{"tracer":"ELG","cap":"N","z":0.76,"n":6.2e-4},{"tracer":"ELG","cap":"N","z":0.789,"n":6.7e-4},{"tracer":"ELG","cap":"N","z":0.808,"n":7.0e-4},{"tracer":"ELG","cap":"N","z":0.83,"n":7.3e-4},{"tracer":"ELG","cap":"N","z":0.849,"n":7.45e-4},{"tracer":"ELG","cap":"N","z":0.87,"n":7.5e-4},{"tracer":"ELG","cap":"N","z":0.892,"n":7.45e-4},{"tracer":"ELG","cap":"N","z":0.915,"n":7.2e-4},{"tracer":"ELG","cap":"N","z":0.937,"n":7.0e-4},{"tracer":"ELG","cap":"N","z":0.97,"n":6.8e-4},{"tracer":"ELG","cap":"N","z":1.009,"n":6.58e-4},{"tracer":"ELG","cap":"N","z":1.045,"n":6.2e-4},{"tracer":"ELG","cap":"N","z":1.086,"n":5.82e-4},{"tracer":"ELG","cap":"N","z":1.125,"n":5.4e-4},{"tracer":"ELG","cap":"N","z":1.169,"n":5.15e-4},{"tracer":"ELG","cap":"N","z":1.21,"n":4.8e-4},{"tracer":"ELG","cap":"N","z":1.259,"n":4.55e-4},{"tracer":"ELG","cap":"N","z":1.31,"n":4.4e-4},{"tracer":"ELG","cap":"N","z":1.357,"n":4.28e-4},{"tracer":"ELG","cap":"N","z":1.41,"n":4.1e-4},{"tracer":"ELG","cap":"N","z":1.464,"n":3.9e-4},{"tracer":"ELG","cap":"N","z":1.49,"n":3.4e-4},{"tracer":"ELG","cap":"N","z":1.521,"n":2.78e-4},{"tracer":"ELG","cap":"N","z":1.54,"n":2.5e-4},{"tracer":"ELG","cap":"N","z":1.561,"n":2.31e-4},{"tracer":"ELG","cap":"N","z":1.58,"n":2.1e-4},{"tracer":"ELG","cap":"N","z":1.602,"n":1.92e-4},
{"tracer":"QSO","cap":"S","z":0.0538,"n":1.5e-6},{"tracer":"QSO","cap":"S","z":0.054,"n":4.0e-5},{"tracer":"QSO","cap":"S","z":0.058,"n":4.4e-5},{"tracer":"QSO","cap":"S","z":0.0647,"n":4.8e-5},{"tracer":"QSO","cap":"S","z":0.07,"n":4.0e-5},{"tracer":"QSO","cap":"S","z":0.0752,"n":3.54e-5},{"tracer":"QSO","cap":"S","z":0.08,"n":3.0e-5},{"tracer":"QSO","cap":"S","z":0.086,"n":2.52e-5},{"tracer":"QSO","cap":"S","z":0.092,"n":2.0e-5},{"tracer":"QSO","cap":"S","z":0.097,"n":1.64e-5},{"tracer":"QSO","cap":"S","z":0.1006,"n":1.3e-5},{"tracer":"QSO","cap":"S","z":0.1044,"n":1.06e-5},{"tracer":"QSO","cap":"S","z":0.1081,"n":8.86e-6},{"tracer":"QSO","cap":"S","z":0.112,"n":9.5e-6},{"tracer":"QSO","cap":"S","z":0.1157,"n":1.06e-5},{"tracer":"QSO","cap":"S","z":0.121,"n":9.8e-6},{"tracer":"QSO","cap":"S","z":0.1273,"n":9.0e-6},{"tracer":"QSO","cap":"S","z":0.133,"n":8.2e-6},{"tracer":"QSO","cap":"S","z":0.1391,"n":7.6e-6},{"tracer":"QSO","cap":"S","z":0.147,"n":7.0e-6},{"tracer":"QSO","cap":"S","z":0.1552,"n":6.51e-6},{"tracer":"QSO","cap":"S","z":0.1634,"n":6.1e-6},{"tracer":"QSO","cap":"S","z":0.1718,"n":5.76e-6},{"tracer":"QSO","cap":"S","z":0.185,"n":5.4e-6},{"tracer":"QSO","cap":"S","z":0.1976,"n":5.09e-6},{"tracer":"QSO","cap":"S","z":0.209,"n":4.6e-6},{"tracer":"QSO","cap":"S","z":0.22,"n":4.23e-6},{"tracer":"QSO","cap":"S","z":0.232,"n":4.4e-6},{"tracer":"QSO","cap":"S","z":0.2433,"n":4.5e-6},{"tracer":"QSO","cap":"S","z":0.2528,"n":4.3e-6},{"tracer":"QSO","cap":"S","z":0.2625,"n":4.23e-6},{"tracer":"QSO","cap":"S","z":0.2773,"n":5.09e-6},{"tracer":"QSO","cap":"S","z":0.2925,"n":5.41e-6},{"tracer":"QSO","cap":"S","z":0.3133,"n":5.58e-6},{"tracer":"QSO","cap":"S","z":0.3348,"n":6.51e-6},{"tracer":"QSO","cap":"S","z":0.3571,"n":7.37e-6},{"tracer":"QSO","cap":"S","z":0.3742,"n":7.9e-6},{"tracer":"QSO","cap":"S","z":0.3918,"n":8.33e-6},{"tracer":"QSO","cap":"S","z":0.4159,"n":8.86e-6},{"tracer":"QSO","cap":"S","z":0.4538,"n":9.42e-6},{"tracer":"QSO","cap":"S","z":0.4937,"n":1.065e-5},{"tracer":"QSO","cap":"S","z":0.5216,"n":1.15e-5},{"tracer":"QSO","cap":"S","z":0.5506,"n":1.4e-5},{"tracer":"QSO","cap":"S","z":0.59,"n":1.6e-5},{"tracer":"QSO","cap":"S","z":0.628,"n":1.85e-5},{"tracer":"QSO","cap":"S","z":0.67,"n":2.05e-5},{"tracer":"QSO","cap":"S","z":0.713,"n":2.23e-5},{"tracer":"QSO","cap":"S","z":0.75,"n":2.4e-5},{"tracer":"QSO","cap":"S","z":0.789,"n":2.52e-5},{"tracer":"QSO","cap":"S","z":0.83,"n":2.65e-5},{"tracer":"QSO","cap":"S","z":0.871,"n":2.77e-5},{"tracer":"QSO","cap":"S","z":0.915,"n":2.9e-5},{"tracer":"QSO","cap":"S","z":0.961,"n":3.03e-5},{"tracer":"QSO","cap":"S","z":1.01,"n":3.2e-5},{"tracer":"QSO","cap":"S","z":1.06,"n":3.33e-5},{"tracer":"QSO","cap":"S","z":1.11,"n":3.38e-5},{"tracer":"QSO","cap":"S","z":1.169,"n":3.43e-5},{"tracer":"QSO","cap":"S","z":1.24,"n":3.5e-5},{"tracer":"QSO","cap":"S","z":1.324,"n":3.54e-5},{"tracer":"QSO","cap":"S","z":1.41,"n":3.55e-5},{"tracer":"QSO","cap":"S","z":1.502,"n":3.54e-5},{"tracer":"QSO","cap":"S","z":1.6,"n":3.45e-5},{"tracer":"QSO","cap":"S","z":1.71,"n":3.33e-5},{"tracer":"QSO","cap":"S","z":1.83,"n":3.15e-5},{"tracer":"QSO","cap":"S","z":1.955,"n":2.94e-5},{"tracer":"QSO","cap":"S","z":2.1,"n":2.65e-5},{"tracer":"QSO","cap":"S","z":2.25,"n":2.37e-5},{"tracer":"QSO","cap":"S","z":2.4,"n":2.0e-5},{"tracer":"QSO","cap":"S","z":2.531,"n":1.64e-5},{"tracer":"QSO","cap":"S","z":2.62,"n":1.3e-5},{"tracer":"QSO","cap":"S","z":2.73,"n":1.0e-5},{"tracer":"QSO","cap":"S","z":2.866,"n":8.3e-6},{"tracer":"QSO","cap":"S","z":2.96,"n":6.8e-6},{"tracer":"QSO","cap":"S","z":3.058,"n":5.41e-6},{"tracer":"QSO","cap":"S","z":3.17,"n":4.4e-6},{"tracer":"QSO","cap":"S","z":3.27,"n":3.52e-6},{"tracer":"QSO","cap":"S","z":3.36,"n":2.7e-6},{"tracer":"QSO","cap":"S","z":3.445,"n":2.0e-6},{"tracer":"QSO","cap":"S","z":3.5,"n":1.5e-6},
{"tracer":"QSO","cap":"N","z":0.0578,"n":4.0e-5},{"tracer":"QSO","cap":"N","z":0.0647,"n":5.28e-5},{"tracer":"QSO","cap":"N","z":0.07,"n":4.3e-5},{"tracer":"QSO","cap":"N","z":0.0788,"n":3.43e-5},{"tracer":"QSO","cap":"N","z":0.086,"n":2.8e-5},{"tracer":"QSO","cap":"N","z":0.0933,"n":2.37e-5},{"tracer":"QSO","cap":"N","z":0.1,"n":1.9e-5},{"tracer":"QSO","cap":"N","z":0.1081,"n":1.5e-5},{"tracer":"QSO","cap":"N","z":0.112,"n":7.4e-6},{"tracer":"QSO","cap":"N","z":0.1195,"n":1.0e-5},{"tracer":"QSO","cap":"N","z":0.125,"n":1.25e-5},{"tracer":"QSO","cap":"N","z":0.131,"n":1.2e-5},{"tracer":"QSO","cap":"N","z":0.139,"n":9.4e-6},{"tracer":"QSO","cap":"N","z":0.147,"n":7.4e-6},{"tracer":"QSO","cap":"N","z":0.155,"n":6.5e-6},{"tracer":"QSO","cap":"N","z":0.163,"n":5.76e-6},{"tracer":"QSO","cap":"N","z":0.17,"n":5.0e-6},{"tracer":"QSO","cap":"N","z":0.176,"n":4.36e-6},{"tracer":"QSO","cap":"N","z":0.182,"n":5.5e-6},{"tracer":"QSO","cap":"N","z":0.189,"n":6.92e-6},{"tracer":"QSO","cap":"N","z":0.195,"n":7.3e-6},{"tracer":"QSO","cap":"N","z":0.202,"n":7.6e-6},{"tracer":"QSO","cap":"N","z":0.21,"n":7.2e-6},{"tracer":"QSO","cap":"N","z":0.22,"n":6.9e-6},{"tracer":"QSO","cap":"N","z":0.234,"n":6.5e-6},{"tracer":"QSO","cap":"N","z":0.241,"n":5.0e-6},{"tracer":"QSO","cap":"N","z":0.248,"n":3.86e-6},{"tracer":"QSO","cap":"N","z":0.257,"n":4.2e-6},{"tracer":"QSO","cap":"N","z":0.267,"n":4.36e-6},{"tracer":"QSO","cap":"N","z":0.277,"n":4.0e-6},{"tracer":"QSO","cap":"N","z":0.287,"n":3.63e-6},{"tracer":"QSO","cap":"N","z":0.295,"n":4.5e-6},{"tracer":"QSO","cap":"N","z":0.303,"n":5.41e-6},{"tracer":"QSO","cap":"N","z":0.318,"n":6.4e-6},{"tracer":"QSO","cap":"N","z":0.335,"n":7.37e-6},{"tracer":"QSO","cap":"N","z":0.35,"n":8.0e-6},{"tracer":"QSO","cap":"N","z":0.368,"n":8.6e-6},{"tracer":"QSO","cap":"N","z":0.39,"n":9.0e-6},{"tracer":"QSO","cap":"N","z":0.416,"n":9.42e-6},{"tracer":"QSO","cap":"N","z":0.44,"n":1.0e-5},{"tracer":"QSO","cap":"N","z":0.467,"n":1.065e-5},{"tracer":"QSO","cap":"N","z":0.495,"n":1.13e-5},{"tracer":"QSO","cap":"N","z":0.522,"n":1.2e-5},{"tracer":"QSO","cap":"N","z":0.56,"n":1.35e-5},{"tracer":"QSO","cap":"N","z":0.596,"n":1.5e-5},{"tracer":"QSO","cap":"N","z":0.63,"n":1.58e-5},{"tracer":"QSO","cap":"N","z":0.661,"n":1.64e-5},{"tracer":"QSO","cap":"N","z":0.7,"n":1.85e-5},{"tracer":"QSO","cap":"N","z":0.75,"n":2.1e-5},{"tracer":"QSO","cap":"N","z":0.79,"n":2.25e-5},{"tracer":"QSO","cap":"N","z":0.829,"n":2.37e-5},{"tracer":"QSO","cap":"N","z":0.87,"n":2.5e-5},{"tracer":"QSO","cap":"N","z":0.915,"n":2.68e-5},{"tracer":"QSO","cap":"N","z":0.96,"n":2.85e-5},{"tracer":"QSO","cap":"N","z":1.009,"n":3.03e-5},{"tracer":"QSO","cap":"N","z":1.06,"n":3.2e-5},{"tracer":"QSO","cap":"N","z":1.113,"n":3.33e-5},{"tracer":"QSO","cap":"N","z":1.17,"n":3.4e-5},{"tracer":"QSO","cap":"N","z":1.24,"n":3.48e-5},{"tracer":"QSO","cap":"N","z":1.32,"n":3.52e-5},{"tracer":"QSO","cap":"N","z":1.41,"n":3.56e-5},{"tracer":"QSO","cap":"N","z":1.5,"n":3.52e-5},{"tracer":"QSO","cap":"N","z":1.6,"n":3.42e-5},{"tracer":"QSO","cap":"N","z":1.71,"n":3.3e-5},{"tracer":"QSO","cap":"N","z":1.83,"n":3.12e-5},{"tracer":"QSO","cap":"N","z":1.955,"n":2.9e-5},{"tracer":"QSO","cap":"N","z":2.1,"n":2.62e-5},{"tracer":"QSO","cap":"N","z":2.25,"n":2.33e-5},{"tracer":"QSO","cap":"N","z":2.4,"n":1.98e-5},{"tracer":"QSO","cap":"N","z":2.531,"n":1.6e-5},{"tracer":"QSO","cap":"N","z":2.62,"n":1.28e-5},{"tracer":"QSO","cap":"N","z":2.73,"n":9.8e-6},{"tracer":"QSO","cap":"N","z":2.866,"n":8.1e-6},{"tracer":"QSO","cap":"N","z":2.96,"n":6.6e-6},{"tracer":"QSO","cap":"N","z":3.058,"n":5.3e-6},{"tracer":"QSO","cap":"N","z":3.17,"n":4.3e-6},{"tracer":"QSO","cap":"N","z":3.27,"n":3.4e-6},{"tracer":"QSO","cap":"N","z":3.36,"n":2.6e-6},{"tracer":"QSO","cap":"N","z":3.43,"n":2.0e-6},{"tracer":"QSO","cap":"N","z":3.48,"n":1.5e-6}
],
"right": [
{"tracer":"BGS","cap":"NGC","z":0.1,"n":2.95},{"tracer":"BGS","cap":"NGC","z":0.105,"n":3.15},{"tracer":"BGS","cap":"NGC","z":0.111,"n":3.2},{"tracer":"BGS","cap":"NGC","z":0.118,"n":3.05},{"tracer":"BGS","cap":"NGC","z":0.123,"n":3.25},{"tracer":"BGS","cap":"NGC","z":0.13,"n":3.3},{"tracer":"BGS","cap":"NGC","z":0.135,"n":3.45},{"tracer":"BGS","cap":"NGC","z":0.14,"n":3.15},{"tracer":"BGS","cap":"NGC","z":0.145,"n":3.13},{"tracer":"BGS","cap":"NGC","z":0.15,"n":3.25},{"tracer":"BGS","cap":"NGC","z":0.157,"n":3.22},{"tracer":"BGS","cap":"NGC","z":0.163,"n":3.1},{"tracer":"BGS","cap":"NGC","z":0.168,"n":3.28},{"tracer":"BGS","cap":"NGC","z":0.174,"n":3.28},{"tracer":"BGS","cap":"NGC","z":0.18,"n":3.18},{"tracer":"BGS","cap":"NGC","z":0.186,"n":3.3},{"tracer":"BGS","cap":"NGC","z":0.191,"n":3.22},{"tracer":"BGS","cap":"NGC","z":0.196,"n":3.1},{"tracer":"BGS","cap":"NGC","z":0.2,"n":3.26},{"tracer":"BGS","cap":"NGC","z":0.208,"n":3.2},{"tracer":"BGS","cap":"NGC","z":0.217,"n":3.15},{"tracer":"BGS","cap":"NGC","z":0.225,"n":3.25},{"tracer":"BGS","cap":"NGC","z":0.234,"n":3.26},{"tracer":"BGS","cap":"NGC","z":0.242,"n":3.1},{"tracer":"BGS","cap":"NGC","z":0.251,"n":3.17},{"tracer":"BGS","cap":"NGC","z":0.26,"n":3.3},{"tracer":"BGS","cap":"NGC","z":0.266,"n":3.33},{"tracer":"BGS","cap":"NGC","z":0.272,"n":3.28},{"tracer":"BGS","cap":"NGC","z":0.28,"n":3.2},{"tracer":"BGS","cap":"NGC","z":0.286,"n":3.35},{"tracer":"BGS","cap":"NGC","z":0.295,"n":3.2},{"tracer":"BGS","cap":"NGC","z":0.303,"n":3.17},{"tracer":"BGS","cap":"NGC","z":0.31,"n":3.1},{"tracer":"BGS","cap":"NGC","z":0.32,"n":3.13},{"tracer":"BGS","cap":"NGC","z":0.328,"n":3.22},{"tracer":"BGS","cap":"NGC","z":0.337,"n":3.26},{"tracer":"BGS","cap":"NGC","z":0.345,"n":3.38},{"tracer":"BGS","cap":"NGC","z":0.354,"n":3.42},{"tracer":"BGS","cap":"NGC","z":0.362,"n":3.45},{"tracer":"BGS","cap":"NGC","z":0.371,"n":3.5},{"tracer":"BGS","cap":"NGC","z":0.378,"n":3.4},{"tracer":"BGS","cap":"NGC","z":0.385,"n":3.44},{"tracer":"BGS","cap":"NGC","z":0.39,"n":3.5},{"tracer":"BGS","cap":"NGC","z":0.395,"n":3.35},{"tracer":"BGS","cap":"NGC","z":0.4,"n":3.28},
{"tracer":"BGS","cap":"SGC","z":0.1,"n":2.0},{"tracer":"BGS","cap":"SGC","z":0.102,"n":2.7},{"tracer":"BGS","cap":"SGC","z":0.105,"n":3.0},{"tracer":"BGS","cap":"SGC","z":0.11,"n":2.9},{"tracer":"BGS","cap":"SGC","z":0.115,"n":3.15},{"tracer":"BGS","cap":"SGC","z":0.12,"n":2.8},{"tracer":"BGS","cap":"SGC","z":0.125,"n":3.1},{"tracer":"BGS","cap":"SGC","z":0.13,"n":2.9},{"tracer":"BGS","cap":"SGC","z":0.135,"n":3.2},{"tracer":"BGS","cap":"SGC","z":0.14,"n":2.85},{"tracer":"BGS","cap":"SGC","z":0.145,"n":3.05},{"tracer":"BGS","cap":"SGC","z":0.15,"n":2.82},{"tracer":"BGS","cap":"SGC","z":0.157,"n":3.1},{"tracer":"BGS","cap":"SGC","z":0.163,"n":2.9},{"tracer":"BGS","cap":"SGC","z":0.17,"n":3.05},{"tracer":"BGS","cap":"SGC","z":0.175,"n":2.95},{"tracer":"BGS","cap":"SGC","z":0.18,"n":3.1},{"tracer":"BGS","cap":"SGC","z":0.19,"n":2.85},{"tracer":"BGS","cap":"SGC","z":0.2,"n":3.0},{"tracer":"BGS","cap":"SGC","z":0.21,"n":2.8},{"tracer":"BGS","cap":"SGC","z":0.22,"n":3.1},{"tracer":"BGS","cap":"SGC","z":0.23,"n":2.85},{"tracer":"BGS","cap":"SGC","z":0.24,"n":2.95},{"tracer":"BGS","cap":"SGC","z":0.25,"n":2.95},{"tracer":"BGS","cap":"SGC","z":0.26,"n":3.0},{"tracer":"BGS","cap":"SGC","z":0.27,"n":3.05},{"tracer":"BGS","cap":"SGC","z":0.28,"n":3.1},{"tracer":"BGS","cap":"SGC","z":0.29,"n":2.95},{"tracer":"BGS","cap":"SGC","z":0.3,"n":3.05},{"tracer":"BGS","cap":"SGC","z":0.31,"n":3.0},{"tracer":"BGS","cap":"SGC","z":0.32,"n":3.15},{"tracer":"BGS","cap":"SGC","z":0.33,"n":3.2},{"tracer":"BGS","cap":"SGC","z":0.34,"n":3.05},{"tracer":"BGS","cap":"SGC","z":0.35,"n":3.15},{"tracer":"BGS","cap":"SGC","z":0.36,"n":3.15},{"tracer":"BGS","cap":"SGC","z":0.37,"n":3.1},{"tracer":"BGS","cap":"SGC","z":0.38,"n":3.05},{"tracer":"BGS","cap":"SGC","z":0.39,"n":3.2},{"tracer":"BGS","cap":"SGC","z":0.395,"n":3.05},{"tracer":"BGS","cap":"SGC","z":0.4,"n":3.08},
{"tracer":"LRG","cap":"NGC","z":0.4,"n":3.85},{"tracer":"LRG","cap":"NGC","z":0.41,"n":3.87},{"tracer":"LRG","cap":"NGC","z":0.423,"n":3.88},{"tracer":"LRG","cap":"NGC","z":0.435,"n":3.92},{"tracer":"LRG","cap":"NGC","z":0.448,"n":3.9},{"tracer":"LRG","cap":"NGC","z":0.457,"n":3.8},{"tracer":"LRG","cap":"NGC","z":0.465,"n":3.75},{"tracer":"LRG","cap":"NGC","z":0.475,"n":3.73},{"tracer":"LRG","cap":"NGC","z":0.483,"n":3.75},{"tracer":"LRG","cap":"NGC","z":0.495,"n":3.8},{"tracer":"LRG","cap":"NGC","z":0.508,"n":3.85},{"tracer":"LRG","cap":"NGC","z":0.52,"n":3.9},{"tracer":"LRG","cap":"NGC","z":0.534,"n":3.97},{"tracer":"LRG","cap":"NGC","z":0.545,"n":3.95},{"tracer":"LRG","cap":"NGC","z":0.551,"n":4.02},{"tracer":"LRG","cap":"NGC","z":0.56,"n":3.95},{"tracer":"LRG","cap":"NGC","z":0.568,"n":4.04},{"tracer":"LRG","cap":"NGC","z":0.577,"n":3.84},{"tracer":"LRG","cap":"NGC","z":0.594,"n":3.84},{"tracer":"LRG","cap":"NGC","z":0.611,"n":3.98},{"tracer":"LRG","cap":"NGC","z":0.62,"n":3.9},{"tracer":"LRG","cap":"NGC","z":0.628,"n":3.84},{"tracer":"LRG","cap":"NGC","z":0.637,"n":3.78},{"tracer":"LRG","cap":"NGC","z":0.645,"n":3.74},{"tracer":"LRG","cap":"NGC","z":0.653,"n":3.8},{"tracer":"LRG","cap":"NGC","z":0.662,"n":3.84},{"tracer":"LRG","cap":"NGC","z":0.67,"n":3.75},{"tracer":"LRG","cap":"NGC","z":0.679,"n":3.78},{"tracer":"LRG","cap":"NGC","z":0.688,"n":3.75},{"tracer":"LRG","cap":"NGC","z":0.697,"n":3.7},{"tracer":"LRG","cap":"NGC","z":0.705,"n":3.68},{"tracer":"LRG","cap":"NGC","z":0.714,"n":3.62},{"tracer":"LRG","cap":"NGC","z":0.722,"n":3.63},{"tracer":"LRG","cap":"NGC","z":0.73,"n":3.7},{"tracer":"LRG","cap":"NGC","z":0.739,"n":3.8},{"tracer":"LRG","cap":"NGC","z":0.748,"n":3.83},{"tracer":"LRG","cap":"NGC","z":0.757,"n":3.84},{"tracer":"LRG","cap":"NGC","z":0.765,"n":3.9},{"tracer":"LRG","cap":"NGC","z":0.775,"n":3.95},{"tracer":"LRG","cap":"NGC","z":0.782,"n":4.0},{"tracer":"LRG","cap":"NGC","z":0.79,"n":4.1},{"tracer":"LRG","cap":"NGC","z":0.799,"n":4.2},{"tracer":"LRG","cap":"NGC","z":0.808,"n":4.12},{"tracer":"LRG","cap":"NGC","z":0.816,"n":4.0},{"tracer":"LRG","cap":"NGC","z":0.825,"n":3.9},{"tracer":"LRG","cap":"NGC","z":0.834,"n":3.8},{"tracer":"LRG","cap":"NGC","z":0.845,"n":3.65},{"tracer":"LRG","cap":"NGC","z":0.859,"n":3.48},{"tracer":"LRG","cap":"NGC","z":0.872,"n":3.3},{"tracer":"LRG","cap":"NGC","z":0.885,"n":3.1},{"tracer":"LRG","cap":"NGC","z":0.902,"n":2.8},{"tracer":"LRG","cap":"NGC","z":0.919,"n":2.5},{"tracer":"LRG","cap":"NGC","z":0.936,"n":2.2},{"tracer":"LRG","cap":"NGC","z":0.953,"n":2.08},{"tracer":"LRG","cap":"NGC","z":0.971,"n":1.84},{"tracer":"LRG","cap":"NGC","z":0.988,"n":1.52},{"tracer":"LRG","cap":"NGC","z":1.005,"n":1.26},{"tracer":"LRG","cap":"NGC","z":1.02,"n":1.08},{"tracer":"LRG","cap":"NGC","z":1.03,"n":0.92},{"tracer":"LRG","cap":"NGC","z":1.048,"n":0.72},{"tracer":"LRG","cap":"NGC","z":1.065,"n":0.6},{"tracer":"LRG","cap":"NGC","z":1.08,"n":0.5},{"tracer":"LRG","cap":"NGC","z":1.096,"n":0.45},
{"tracer":"LRG","cap":"SGC","z":0.4,"n":3.45},{"tracer":"LRG","cap":"SGC","z":0.405,"n":3.5},{"tracer":"LRG","cap":"SGC","z":0.412,"n":3.3},{"tracer":"LRG","cap":"SGC","z":0.419,"n":3.24},{"tracer":"LRG","cap":"SGC","z":0.428,"n":3.4},{"tracer":"LRG","cap":"SGC","z":0.44,"n":3.53},{"tracer":"LRG","cap":"SGC","z":0.448,"n":3.45},{"tracer":"LRG","cap":"SGC","z":0.457,"n":3.38},{"tracer":"LRG","cap":"SGC","z":0.465,"n":3.3},{"tracer":"LRG","cap":"SGC","z":0.474,"n":3.26},{"tracer":"LRG","cap":"SGC","z":0.49,"n":3.25},{"tracer":"LRG","cap":"SGC","z":0.5,"n":3.24},{"tracer":"LRG","cap":"SGC","z":0.51,"n":3.3},{"tracer":"LRG","cap":"SGC","z":0.525,"n":3.38},{"tracer":"LRG","cap":"SGC","z":0.535,"n":3.3},{"tracer":"LRG","cap":"SGC","z":0.545,"n":3.45},{"tracer":"LRG","cap":"SGC","z":0.551,"n":3.46},{"tracer":"LRG","cap":"SGC","z":0.56,"n":3.4},{"tracer":"LRG","cap":"SGC","z":0.568,"n":3.44},{"tracer":"LRG","cap":"SGC","z":0.58,"n":3.48},{"tracer":"LRG","cap":"SGC","z":0.594,"n":3.47},{"tracer":"LRG","cap":"SGC","z":0.61,"n":3.46},{"tracer":"LRG","cap":"SGC","z":0.628,"n":3.45},{"tracer":"LRG","cap":"SGC","z":0.64,"n":3.3},{"tracer":"LRG","cap":"SGC","z":0.654,"n":3.26},{"tracer":"LRG","cap":"SGC","z":0.665,"n":3.2},{"tracer":"LRG","cap":"SGC","z":0.679,"n":3.15},{"tracer":"LRG","cap":"SGC","z":0.69,"n":3.12},{"tracer":"LRG","cap":"SGC","z":0.705,"n":3.1},{"tracer":"LRG","cap":"SGC","z":0.72,"n":3.06},{"tracer":"LRG","cap":"SGC","z":0.731,"n":3.04},{"tracer":"LRG","cap":"SGC","z":0.74,"n":3.1},{"tracer":"LRG","cap":"SGC","z":0.748,"n":3.13},{"tracer":"LRG","cap":"SGC","z":0.76,"n":3.15},{"tracer":"LRG","cap":"SGC","z":0.774,"n":3.2},{"tracer":"LRG","cap":"SGC","z":0.785,"n":3.3},{"tracer":"LRG","cap":"SGC","z":0.799,"n":3.42},{"tracer":"LRG","cap":"SGC","z":0.808,"n":3.3},{"tracer":"LRG","cap":"SGC","z":0.816,"n":3.25},{"tracer":"LRG","cap":"SGC","z":0.825,"n":3.15},{"tracer":"LRG","cap":"SGC","z":0.834,"n":3.06},{"tracer":"LRG","cap":"SGC","z":0.851,"n":3.05},{"tracer":"LRG","cap":"SGC","z":0.868,"n":2.73},{"tracer":"LRG","cap":"SGC","z":0.893,"n":2.37},{"tracer":"LRG","cap":"SGC","z":0.911,"n":2.15},{"tracer":"LRG","cap":"SGC","z":0.928,"n":2.06},{"tracer":"LRG","cap":"SGC","z":0.945,"n":1.84},{"tracer":"LRG","cap":"SGC","z":0.962,"n":1.61},{"tracer":"LRG","cap":"SGC","z":0.979,"n":1.39},{"tracer":"LRG","cap":"SGC","z":0.996,"n":1.21},{"tracer":"LRG","cap":"SGC","z":1.005,"n":1.1},{"tracer":"LRG","cap":"SGC","z":1.022,"n":0.86},{"tracer":"LRG","cap":"SGC","z":1.039,"n":0.72},{"tracer":"LRG","cap":"SGC","z":1.056,"n":0.59},{"tracer":"LRG","cap":"SGC","z":1.073,"n":0.5},{"tracer":"LRG","cap":"SGC","z":1.09,"n":0.43},
{"tracer":"ELG","cap":"NGC","z":0.8,"n":2.3},{"tracer":"ELG","cap":"NGC","z":0.816,"n":2.46},{"tracer":"ELG","cap":"NGC","z":0.834,"n":2.64},{"tracer":"ELG","cap":"NGC","z":0.842,"n":2.68},{"tracer":"ELG","cap":"NGC","z":0.851,"n":2.64},{"tracer":"ELG","cap":"NGC","z":0.868,"n":2.7},{"tracer":"ELG","cap":"NGC","z":0.885,"n":2.75},{"tracer":"ELG","cap":"NGC","z":0.902,"n":2.79},{"tracer":"ELG","cap":"NGC","z":0.916,"n":2.84},{"tracer":"ELG","cap":"NGC","z":0.928,"n":2.77},{"tracer":"ELG","cap":"NGC","z":0.945,"n":2.75},{"tracer":"ELG","cap":"NGC","z":0.962,"n":2.7},{"tracer":"ELG","cap":"NGC","z":0.979,"n":2.64},{"tracer":"ELG","cap":"NGC","z":0.996,"n":2.66},{"tracer":"ELG","cap":"NGC","z":1.013,"n":2.67},{"tracer":"ELG","cap":"NGC","z":1.03,"n":2.55},{"tracer":"ELG","cap":"NGC","z":1.042,"n":2.39},{"tracer":"ELG","cap":"NGC","z":1.056,"n":2.48},{"tracer":"ELG","cap":"NGC","z":1.07,"n":2.35},{"tracer":"ELG","cap":"NGC","z":1.09,"n":2.26},{"tracer":"ELG","cap":"NGC","z":1.108,"n":2.17},{"tracer":"ELG","cap":"NGC","z":1.133,"n":2.16},{"tracer":"ELG","cap":"NGC","z":1.159,"n":2.14},{"tracer":"ELG","cap":"NGC","z":1.185,"n":2.1},{"tracer":"ELG","cap":"NGC","z":1.21,"n":2.02},{"tracer":"ELG","cap":"NGC","z":1.236,"n":1.98},{"tracer":"ELG","cap":"NGC","z":1.253,"n":1.97},{"tracer":"ELG","cap":"NGC","z":1.27,"n":1.9},{"tracer":"ELG","cap":"NGC","z":1.287,"n":1.84},{"tracer":"ELG","cap":"NGC","z":1.313,"n":1.77},{"tracer":"ELG","cap":"NGC","z":1.33,"n":1.81},{"tracer":"ELG","cap":"NGC","z":1.347,"n":1.75},{"tracer":"ELG","cap":"NGC","z":1.364,"n":1.7},{"tracer":"ELG","cap":"NGC","z":1.39,"n":1.66},{"tracer":"ELG","cap":"NGC","z":1.416,"n":1.59},{"tracer":"ELG","cap":"NGC","z":1.441,"n":1.52},{"tracer":"ELG","cap":"NGC","z":1.467,"n":1.48},{"tracer":"ELG","cap":"NGC","z":1.484,"n":1.48},{"tracer":"ELG","cap":"NGC","z":1.493,"n":1.17},{"tracer":"ELG","cap":"NGC","z":1.51,"n":1.08},{"tracer":"ELG","cap":"NGC","z":1.527,"n":1.03},{"tracer":"ELG","cap":"NGC","z":1.536,"n":0.88},{"tracer":"ELG","cap":"NGC","z":1.553,"n":0.97},{"tracer":"ELG","cap":"NGC","z":1.57,"n":0.99},{"tracer":"ELG","cap":"NGC","z":1.584,"n":0.94},{"tracer":"ELG","cap":"NGC","z":1.596,"n":0.83},
{"tracer":"ELG","cap":"SGC","z":0.8,"n":1.35},{"tracer":"ELG","cap":"SGC","z":0.816,"n":1.44},{"tracer":"ELG","cap":"SGC","z":0.834,"n":1.64},{"tracer":"ELG","cap":"SGC","z":0.851,"n":1.68},{"tracer":"ELG","cap":"SGC","z":0.876,"n":1.7},{"tracer":"ELG","cap":"SGC","z":0.893,"n":1.72},{"tracer":"ELG","cap":"SGC","z":0.911,"n":1.68},{"tracer":"ELG","cap":"SGC","z":0.928,"n":1.79},{"tracer":"ELG","cap":"SGC","z":0.945,"n":1.66},{"tracer":"ELG","cap":"SGC","z":0.962,"n":1.64},{"tracer":"ELG","cap":"SGC","z":0.979,"n":1.66},{"tracer":"ELG","cap":"SGC","z":0.996,"n":1.68},{"tracer":"ELG","cap":"SGC","z":1.018,"n":1.7},{"tracer":"ELG","cap":"SGC","z":1.039,"n":1.57},{"tracer":"ELG","cap":"SGC","z":1.048,"n":1.46},{"tracer":"ELG","cap":"SGC","z":1.065,"n":1.52},{"tracer":"ELG","cap":"SGC","z":1.082,"n":1.48},{"tracer":"ELG","cap":"SGC","z":1.108,"n":1.39},{"tracer":"ELG","cap":"SGC","z":1.142,"n":1.37},{"tracer":"ELG","cap":"SGC","z":1.176,"n":1.35},{"tracer":"ELG","cap":"SGC","z":1.202,"n":1.3},{"tracer":"ELG","cap":"SGC","z":1.227,"n":1.28},{"tracer":"ELG","cap":"SGC","z":1.262,"n":1.24},{"tracer":"ELG","cap":"SGC","z":1.287,"n":1.19},{"tracer":"ELG","cap":"SGC","z":1.313,"n":1.21},{"tracer":"ELG","cap":"SGC","z":1.347,"n":1.14},{"tracer":"ELG","cap":"SGC","z":1.382,"n":1.1},{"tracer":"ELG","cap":"SGC","z":1.416,"n":1.06},{"tracer":"ELG","cap":"SGC","z":1.45,"n":1.06},{"tracer":"ELG","cap":"SGC","z":1.484,"n":1.01},{"tracer":"ELG","cap":"SGC","z":1.493,"n":0.88},{"tracer":"ELG","cap":"SGC","z":1.501,"n":0.7},{"tracer":"ELG","cap":"SGC","z":1.518,"n":0.65},{"tracer":"ELG","cap":"SGC","z":1.536,"n":0.59},{"tracer":"ELG","cap":"SGC","z":1.553,"n":0.65},{"tracer":"ELG","cap":"SGC","z":1.57,"n":0.68},{"tracer":"ELG","cap":"SGC","z":1.587,"n":0.63},{"tracer":"ELG","cap":"SGC","z":1.596,"n":0.59},
{"tracer":"QSO","cap":"NGC","z":0.8,"n":0.23},{"tracer":"QSO","cap":"NGC","z":0.85,"n":0.245},{"tracer":"QSO","cap":"NGC","z":0.9,"n":0.25},{"tracer":"QSO","cap":"NGC","z":0.95,"n":0.26},{"tracer":"QSO","cap":"NGC","z":1.0,"n":0.265},{"tracer":"QSO","cap":"NGC","z":1.05,"n":0.27},{"tracer":"QSO","cap":"NGC","z":1.1,"n":0.275},{"tracer":"QSO","cap":"NGC","z":1.15,"n":0.285},{"tracer":"QSO","cap":"NGC","z":1.2,"n":0.29},{"tracer":"QSO","cap":"NGC","z":1.25,"n":0.295},{"tracer":"QSO","cap":"NGC","z":1.3,"n":0.305},{"tracer":"QSO","cap":"NGC","z":1.35,"n":0.3},{"tracer":"QSO","cap":"NGC","z":1.4,"n":0.305},{"tracer":"QSO","cap":"NGC","z":1.45,"n":0.31},{"tracer":"QSO","cap":"NGC","z":1.5,"n":0.305},{"tracer":"QSO","cap":"NGC","z":1.55,"n":0.3},{"tracer":"QSO","cap":"NGC","z":1.6,"n":0.3},{"tracer":"QSO","cap":"NGC","z":1.65,"n":0.295},{"tracer":"QSO","cap":"NGC","z":1.7,"n":0.29},{"tracer":"QSO","cap":"NGC","z":1.75,"n":0.285},{"tracer":"QSO","cap":"NGC","z":1.8,"n":0.28},{"tracer":"QSO","cap":"NGC","z":1.85,"n":0.27},{"tracer":"QSO","cap":"NGC","z":1.9,"n":0.26},{"tracer":"QSO","cap":"NGC","z":1.95,"n":0.25},{"tracer":"QSO","cap":"NGC","z":2.0,"n":0.24},{"tracer":"QSO","cap":"NGC","z":2.05,"n":0.225},{"tracer":"QSO","cap":"NGC","z":2.1,"n":0.21},
{"tracer":"QSO","cap":"SGC","z":0.8,"n":0.24},{"tracer":"QSO","cap":"SGC","z":0.85,"n":0.25},{"tracer":"QSO","cap":"SGC","z":0.9,"n":0.26},{"tracer":"QSO","cap":"SGC","z":0.95,"n":0.27},{"tracer":"QSO","cap":"SGC","z":1.0,"n":0.27},{"tracer":"QSO","cap":"SGC","z":1.05,"n":0.28},{"tracer":"QSO","cap":"SGC","z":1.1,"n":0.285},{"tracer":"QSO","cap":"SGC","z":1.15,"n":0.295},{"tracer":"QSO","cap":"SGC","z":1.2,"n":0.3},{"tracer":"QSO","cap":"SGC","z":1.25,"n":0.31},{"tracer":"QSO","cap":"SGC","z":1.3,"n":0.315},{"tracer":"QSO","cap":"SGC","z":1.35,"n":0.31},{"tracer":"QSO","cap":"SGC","z":1.4,"n":0.31},{"tracer":"QSO","cap":"SGC","z":1.45,"n":0.315},{"tracer":"QSO","cap":"SGC","z":1.5,"n":0.31},{"tracer":"QSO","cap":"SGC","z":1.55,"n":0.305},{"tracer":"QSO","cap":"SGC","z":1.6,"n":0.305},{"tracer":"QSO","cap":"SGC","z":1.65,"n":0.3},{"tracer":"QSO","cap":"SGC","z":1.7,"n":0.295},{"tracer":"QSO","cap":"SGC","z":1.75,"n":0.29},{"tracer":"QSO","cap":"SGC","z":1.8,"n":0.285},{"tracer":"QSO","cap":"SGC","z":1.85,"n":0.275},{"tracer":"QSO","cap":"SGC","z":1.9,"n":0.265},{"tracer":"QSO","cap":"SGC","z":1.95,"n":0.255},{"tracer":"QSO","cap":"SGC","z":2.0,"n":0.245},{"tracer":"QSO","cap":"SGC","z":2.05,"n":0.23},{"tracer":"QSO","cap":"SGC","z":2.1,"n":0.22}
],
"binEdges": [{"z":0.1},{"z":0.4},{"z":0.6},{"z":0.8},{"z":1.1},{"z":1.6},{"z":2.1}],
"minorGrid": [{"z":0.1},{"z":0.3},{"z":0.5},{"z":0.7},{"z":0.9},{"z":1.1},{"z":1.3},{"z":1.5},{"z":1.7},{"z":1.9},{"z":2.1}]
},
"hconcat": [
{
  "width": 478, "height": 336.6,
  "title": {"text": "Applying completeness corrections", "offset": -4.4},
  "resolve": {"axis": {"y": "independent"}},
  "layer": [
    {
      "data": {"name": "left"},
      "mark": {"type": "line", "strokeWidth": 1.5, "clip": true},
      "encoding": {
        "x": {"field": "z", "type": "quantitative", "title": "Redshift",
          "scale": {"domain": [0.0087,0.03,0.05,0.075,0.1,0.15,0.2,0.25,0.3,0.4,0.5,0.6,0.7,0.8,0.95,1.1,1.3,1.6,2.1,2.6,3.2,4.0], "range": [0,12.4,23.57,36.95,49.72,73.6,95.48,115.62,134.21,167.4,196.17,221.34,243.55,263.29,289.1,311.23,336.25,366.55,404.03,431.09,455.07,478], "nice": false, "zero": false},
          "axis": {"values": [0.1,0.4,0.6,0.8,1.1,1.6,2.1], "tickCount": 20, "format": ".1f", "grid": true, "titlePadding": 2}},
        "y": {"field": "n", "type": "quantitative", "title": "Comoving number density (ℎ/Mpc)³",
          "scale": {"type": "log", "domain": [2.0e-6, 1.0e-3], "nice": false},
          "axis": {"values": [1e-3,1e-4,1e-5], "tickCount": 20, "labelExpr": "datum.value > 5e-4 ? '10⁻³' : datum.value > 5e-5 ? '10⁻⁴' : '10⁻⁵'", "grid": true, "labelPadding": 5.5, "titlePadding": 14, "labelOverlap": false}},
        "color": {"field": "tracer", "type": "nominal",
          "scale": {"domain": ["BGS","LRG","ELG","QSO","S","N"], "range": ["#9acd32","#ff0000","#0000ff","#2e8b57","#000000","#000000"]},
          "legend": {"title": null, "orient": "none", "legendX": 366, "legendY": 8.6, "symbolType": "M-2.5,0L2.5,0", "symbolSize": 207, "symbolOffset": 10.8, "labelOffset": 21, "symbolStrokeWidth": 1.5, "rowPadding": 6, "padding": 6.5, "labelFontSize": 17, "fillColor": "rgba(255,255,255,0.8)", "strokeColor": "#cccccc", "cornerRadius": 4}},
        "strokeDash": {"field": "cap", "type": "nominal",
          "scale": {"domain": ["BGS","LRG","ELG","QSO","S","N"], "range": [[1,0],[1,0],[1,0],[1,0],[1,0],[5.55,2.4]]},
          "legend": {"title": null, "orient": "none", "legendX": 366, "legendY": 8.6, "symbolType": "M-2.5,0L2.5,0", "symbolSize": 207, "symbolOffset": 10.8, "labelOffset": 21, "symbolStrokeWidth": 1.5, "rowPadding": 6, "padding": 6.5, "labelFontSize": 17, "fillColor": "rgba(255,255,255,0.8)", "strokeColor": "#cccccc", "cornerRadius": 4}}
      }
    },
    {
      "data": {"values": [{"z": 1.0, "n": 1e-4}]},
      "mark": {"type": "point", "opacity": 0},
      "encoding": {
        "x": {"field": "z", "type": "quantitative"},
        "y": {"field": "n", "type": "quantitative",
          "scale": {"type": "log", "domain": [2.0e-6, 1.0e-3], "nice": false},
          "axis": {"orient": "left", "values": [3e-6,4e-6,5e-6,6e-6,7e-6,8e-6,9e-6,2e-5,3e-5,4e-5,5e-5,6e-5,7e-5,8e-5,9e-5,2e-4,3e-4,4e-4,5e-4,6e-4,7e-4,8e-4,9e-4], "tickCount": 40, "labels": false, "title": null, "grid": false, "domain": false, "tickSize": 2, "tickWidth": 0.6}}
      }
    }
  ]
},
{
  "width": 478, "height": 336.6,
  "title": {"text": "No completeness corrections", "offset": -14.4},
  "layer": [
    {
      "data": {"name": "minorGrid"},
      "mark": {"type": "rule", "color": "#dcdcdc", "strokeWidth": 0.8},
      "encoding": {"x": {"field": "z", "type": "quantitative"}}
    },
    {
      "data": {"name": "binEdges"},
      "mark": {"type": "rule", "color": "#3a3a3a", "strokeWidth": 1.4},
      "encoding": {"x": {"field": "z", "type": "quantitative"}}
    },
    {
      "data": {"name": "right"},
      "mark": {"type": "line", "strokeWidth": 1.5, "clip": true},
      "encoding": {
        "x": {"field": "z", "type": "quantitative", "title": "Redshift",
          "scale": {"domain": [0, 2.2], "nice": false, "zero": false},
          "axis": {"values": [0.2,0.4,0.6,0.8,1.0,1.2,1.4,1.6,1.8,2.0,2.2], "tickCount": 20, "format": ".1f", "grid": true, "gridColor": "#cfcfcf", "titlePadding": 2}},
        "y": {"field": "n", "type": "quantitative", "title": "Comoving number density (ℎ/Mpc)³",
          "scale": {"domain": [0, 4.5], "nice": false, "zero": false},
          "axis": {"values": [0,0.5,1,1.5,2,2.5,3,3.5,4,4.5], "tickCount": 20, "format": ".1f", "labelOverlap": false, "grid": true, "gridColor": "#b5b5b5", "labelPadding": 5.5, "titlePadding": 6}},
        "color": {"field": "tracer", "type": "nominal",
          "scale": {"domain": ["BGS","LRG","ELG","QSO","NGC","SGC"], "range": ["#9acd32","#ff0000","#0000ff","#2e8b57","#000000","#000000"]},
          "legend": {"title": null, "orient": "none", "legendX": 347.3, "legendY": 16, "symbolType": "M-2.5,0L2.5,0", "symbolSize": 207, "symbolOffset": 10.8, "labelOffset": 21, "symbolStrokeWidth": 1.5, "rowPadding": 6, "padding": 6.5, "labelFontSize": 17, "fillColor": "rgba(255,255,255,0.8)", "strokeColor": "#cccccc", "cornerRadius": 4}},
        "strokeDash": {"field": "cap", "type": "nominal",
          "scale": {"domain": ["BGS","LRG","ELG","QSO","NGC","SGC"], "range": [[1,0],[1,0],[1,0],[1,0],[1,0],[5.55,2.4]]},
          "legend": {"title": null, "orient": "none", "legendX": 347.3, "legendY": 16, "symbolType": "M-2.5,0L2.5,0", "symbolSize": 207, "symbolOffset": 10.8, "labelOffset": 21, "symbolStrokeWidth": 1.5, "rowPadding": 6, "padding": 6.5, "labelFontSize": 17, "fillColor": "rgba(255,255,255,0.8)", "strokeColor": "#cccccc", "cornerRadius": 4}}
      }
    },
    {
      "data": {"values": [{}]},
      "mark": {"type": "text", "align": "left", "baseline": "alphabetic", "dy": -7, "fontSize": 15, "font": "DejaVu Serif", "color": "black"},
      "encoding": {"x": {"datum": 0}, "y": {"datum": 4.5}, "text": {"value": "×10⁻⁴"}}
    }
  ]
}
]
}
